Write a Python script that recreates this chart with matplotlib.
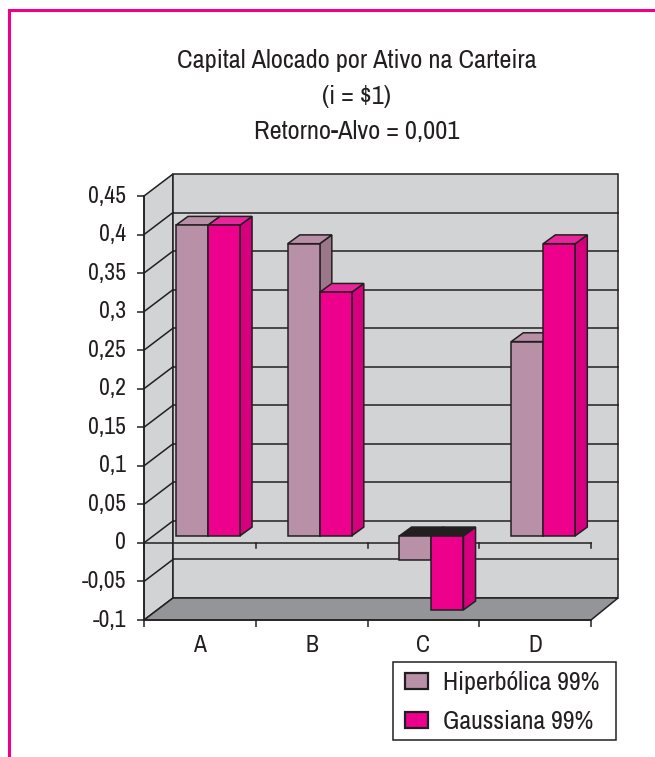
import matplotlib
matplotlib.use("Agg")
import matplotlib.pyplot as plt
from matplotlib.patches import Polygon, Patch, Rectangle
from matplotlib.transforms import Affine2D
from matplotlib import font_manager as fm

names = {f.name for f in fm.fontManager.ttflist}
preferred = [n for n in ("Archivo Narrow", "Pragati Narrow", "PT Sans Narrow", "Roboto Condensed") if n in names]
narrow = bool(preferred)
plt.rcParams['font.family'] = (preferred[:1] if narrow else ['Liberation Sans']) + ['DejaVu Sans']
FS = 1.0 if narrow else 0.85

categories = ["A", "B", "C", "D"]
hiperbolica = [0.403, 0.379, -0.031, 0.252]
gaussiana = [0.403, 0.316, -0.096, 0.379]
series_names = ["Hiperbólica 99%", "Gaussiana 99%"]
y_ticks = [-0.1, -0.05, 0, 0.05, 0.1, 0.15, 0.2, 0.25, 0.3, 0.35, 0.4, 0.45]
y_labels = ["-0,1", "-0,05", "0", "0,05", "0,1", "0,15", "0,2", "0,25", "0,3", "0,35", "0,4", "0,45"]
title_lines = ["Capital Alocado por Ativo na Carteira", "(i = $1)", "Retorno-Alvo = 0,001"]

W, H = 655, 757
INK = "#231f20"
MAG = "#ec008c"
fig = plt.figure(figsize=(W / 100, H / 100), dpi=100, facecolor="white")
L, R, T, B = 144, 591, 196, 620
ax = fig.add_axes([L / W, 1 - B / H, (R - L) / W, (B - T) / H])
ax.set_xlim(0, 4)
ax.set_ylim(-0.1, 0.45)
ax.patch.set_visible(False)

px_x = 4 / (R - L)
px_y = 0.55 / (B - T)
DX, DY = 29 * px_x, 22 * px_y
XR = 4 + 27 * px_x
LW = 1.1


def poly(pts, fc, z, ec=INK, lw=LW):
    ax.add_patch(Polygon(pts, closed=True, fc=fc, ec=ec, lw=lw, zorder=z, clip_on=False, joinstyle="miter"))


# walls and floor
poly([(0, -0.1), (DX, -0.1 + DY), (DX, 0.45 + DY), (0, 0.45)], "#d1d3d4", 1)
poly([(DX, -0.1 + DY), (XR, -0.1 + DY), (XR, 0.45 + DY), (DX, 0.45 + DY)], "#d1d3d4", 1)
poly([(0, -0.1), (DX, -0.1 + DY), (XR, -0.1 + DY), (4, -0.1)], "#939598", 2)

for t in y_ticks[1:-1]:
    ax.plot([DX, XR], [t + DY, t + DY], color=INK, lw=LW, zorder=2, clip_on=False)
    ax.plot([0, DX], [t, t + DY], color=INK, lw=LW, zorder=2, clip_on=False)

# zero line of the front plane
ax.plot([0, 4], [0, 0], color=INK, lw=LW, zorder=3, clip_on=False)
for i in range(len(categories) + 1):
    ax.plot([i, i], [0, -5 * px_y], color=INK, lw=LW, zorder=3, clip_on=False)

# bars
FRONT = 0.32
DEPTH = 0.40
BW = 32 * px_x
fx, fy = FRONT * DX, FRONT * DY
bx, by = DEPTH * DX + 0.5 * px_x, DEPTH * DY
shift = Affine2D().translate(fx, fy) + ax.transData

styles = [
    dict(front="#b890a8", top="#b88fa7", side="#9c7689", under=INK),
    dict(front=MAG, top="#e8259a", side="#d6007f", under=INK),
]
z = 4
for i in range(len(categories)):
    for s, vals in enumerate((hiperbolica, gaussiana)):
        st = styles[s]
        v = vals[i]
        x0 = i + 0.5 - BW + s * BW - 1.2 * px_x
        x1 = x0 + BW
        hi = max(v, 0)
        lo = min(v, 0)
        X0, X1, HI, LO = x0 + fx, x1 + fx, hi + fy, lo + fy
        poly([(X1, LO), (X1 + bx, LO + by), (X1 + bx, HI + by), (X1, HI)], st["side"], z)
        poly([(X0, HI), (X0 + bx, HI + by), (X1 + bx, HI + by), (X1, HI)],
             st["top"] if v >= 0 else st["under"], z)
        ax.bar(x0, v, width=BW, align="edge", color=st["front"], edgecolor=INK, linewidth=LW,
               transform=shift, zorder=z, clip_on=False)
        z += 1

ax.set_xlim(0, 4)
ax.set_ylim(-0.1, 0.45)

# axes
for sp in ("top", "right"):
    ax.spines[sp].set_visible(False)
for sp in ("left", "bottom"):
    ax.spines[sp].set_linewidth(LW)
    ax.spines[sp].set_color(INK)
    ax.spines[sp].set_zorder(20)
ax.set_yticks(y_ticks)
ax.set_yticklabels(y_labels)
ax.tick_params(axis="y", length=5, width=LW, color=INK, labelcolor=INK, labelsize=17 * FS, pad=8)
up = Affine2D().translate(0, 2)
for lab in ax.get_yticklabels():
    lab.set_transform(lab.get_transform() + up)
ax.set_xticks(range(len(categories) + 1))
ax.set_xticklabels([])
ax.set_xticks([i + 0.5 for i in range(len(categories))], minor=True)
ax.set_xticklabels(categories, minor=True)
ax.tick_params(axis="x", which="major", length=5, width=LW, color=INK)
ax.tick_params(axis="x", which="minor", length=0, labelcolor=INK, labelsize=17 * FS, pad=11)

# title
for line, y in zip(title_lines, (60, 96, 132)):
    fig.text(356.5 / W, 1 - y / H, line.replace("$", r"\$"), ha="center", va="center", fontsize=19 * FS, color=INK)

# legend: frame placed separately so its margins can differ per side
fig.add_artist(Rectangle((392.5 / W, 1 - 740 / H), 223 / W, 78 / H, transform=fig.transFigure,
                         fc="white", ec=INK, lw=LW))
handles = [Patch(fc=styles[0]["front"], ec=INK, lw=1.6), Patch(fc=styles[1]["front"], ec=INK, lw=1.6)]
leg = fig.legend(handles, series_names, loc="upper left",
                 bbox_to_anchor=(405 / W, 1 - 671 / H), bbox_transform=fig.transFigure,
                 fontsize=18.6 * FS, frameon=False,
                 borderaxespad=0, borderpad=0, handlelength=0.9, handleheight=0.6,
                 handletextpad=0.58, labelspacing=0.62, labelcolor=INK)
leg.set_zorder(5)

# page border
fig.add_artist(plt.Line2D([8.5 / W, 8.5 / W, 1], [0, 1 - 9.5 / H, 1 - 9.5 / H], color=MAG, lw=2.2,
                          solid_joinstyle="miter"))

fig.savefig("out.png", dpi=100, facecolor="white")
